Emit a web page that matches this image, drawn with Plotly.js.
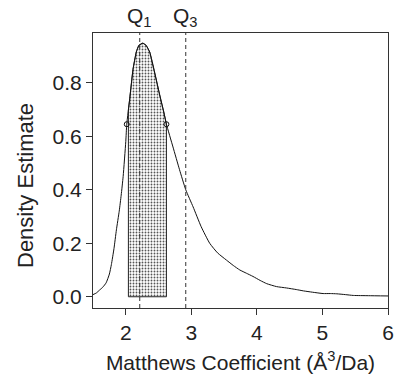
<!DOCTYPE html>
<html><head><meta charset="utf-8">
<script src="https://cdn.plot.ly/plotly-3.0.1.min.js"></script>
<style>html,body{margin:0;padding:0;background:#fff}#c{width:394px;height:374px}</style>
</head><body><div id="c"></div>
<script>
// density curve (Matthews coefficient, Å^3/Da)
const densX = [1.5,1.55,1.60,1.65,1.70,1.75,1.78,1.82,1.857,1.90,1.93,1.96,2.00,2.015,2.06,2.11,2.16,2.20,2.26,2.31,2.365,2.44,2.52,2.58,2.62,2.72,2.82,2.915,3.027,3.15,3.28,3.40,3.536,3.64,3.74,3.84,3.94,4.05,4.15,4.30,4.45,4.60,4.71,4.85,5.01,5.12,5.22,5.35,5.47,5.7,6.0];
const densY = [0.008,0.014,0.025,0.036,0.052,0.085,0.12,0.18,0.25,0.32,0.38,0.45,0.58,0.645,0.74,0.85,0.915,0.94,0.948,0.94,0.915,0.84,0.75,0.69,0.645,0.56,0.475,0.40,0.336,0.262,0.200,0.164,0.137,0.117,0.100,0.088,0.076,0.061,0.049,0.038,0.033,0.027,0.022,0.017,0.012,0.012,0.011,0.008,0.005,0.004,0.003];
// shaded interval and marker points
const intervalX = [2.04, 2.62];
const markX = [2.015, 2.62];
const markY = [0.645, 0.645];
// quartiles
const quartX = [2.213, 2.915];
const quartLabels = ['Q<sub>1</sub>', 'Q<sub>3</sub>'];
const xTicks = [2,3,4,5,6];
const yTicks = [0.0,0.2,0.4,0.6,0.8];

function interp(x){
  for(let i=0;i<densX.length-1;i++){
    if(x>=densX[i] && x<=densX[i+1]){
      const t=(x-densX[i])/(densX[i+1]-densX[i]);
      return densY[i]+t*(densY[i+1]-densY[i]);
    }
  }
  return 0;
}
const lo=intervalX[0], hi=intervalX[1];
const fx=[lo,lo], fy=[0,interp(lo)];
densX.forEach((x,i)=>{ if(x>lo && x<hi){fx.push(x);fy.push(densY[i]);} });
fx.push(hi,hi,lo); fy.push(interp(hi),0,0);

const txt='#222';
const FF='Liberation Sans, Arial, Helvetica';
const traces=[
  {x:fx,y:fy,type:'scatter',mode:'lines',fill:'toself',fillcolor:'rgba(0,0,0,0)',
   fillpattern:{shape:'.',fgcolor:'#555',bgcolor:'#fff',size:3,solidity:0.3},
   line:{color:'#222',width:1},hoverinfo:'skip',showlegend:false},
  {x:densX,y:densY,type:'scatter',mode:'lines',line:{color:'#111',width:1,shape:'spline',smoothing:0.5},showlegend:false},
  {x:markX,y:markY,type:'scatter',mode:'markers',marker:{symbol:'circle-open',size:5,color:'#111',line:{width:1}},showlegend:false}
];
const shapes=quartX.map(q=>({type:'line',xref:'x',yref:'paper',x0:q,x1:q,y0:0,y1:1,line:{color:'#333',width:1,dash:'4px,3px'}}));
const ann=quartX.map((q,i)=>({x:q,xref:'x',y:1,yref:'paper',yanchor:'bottom',yshift:1,text:quartLabels[i],showarrow:false,font:{family:FF,size:21,color:txt}}));
ann.push({x:0,xref:'paper',xanchor:'center',xshift:-68,y:0.4436,yref:'paper',yanchor:'middle',textangle:-90,text:'Density Estimate',showarrow:false,font:{family:FF,size:22,color:txt}});
const layout={
  width:394,height:374,margin:{l:93,r:6,t:33,b:66},paper_bgcolor:'#fff',plot_bgcolor:'#fff',
  font:{family:FF,size:21,color:txt},
  xaxis:{range:[1.5,6],tickvals:xTicks,ticktext:xTicks.map(String),ticks:'outside',ticklen:6,tickcolor:'#333',
    showline:true,linecolor:'#333',linewidth:1,mirror:true,showgrid:false,zeroline:false,
    title:{text:'Matthews Coefficient (Å<sup>3</sup>/Da)',font:{size:21,color:txt},standoff:12}},
  yaxis:{range:[-0.042,0.986],tickvals:yTicks,ticktext:yTicks.map(v=>v.toFixed(1)),ticks:'outside',ticklen:6,tickcolor:'#333',
    showline:true,linecolor:'#333',linewidth:1,mirror:true,showgrid:false,zeroline:false},
  shapes:shapes,annotations:ann
};
Plotly.newPlot('c',traces,layout,{displayModeBar:false,staticPlot:true});
</script></body></html>
